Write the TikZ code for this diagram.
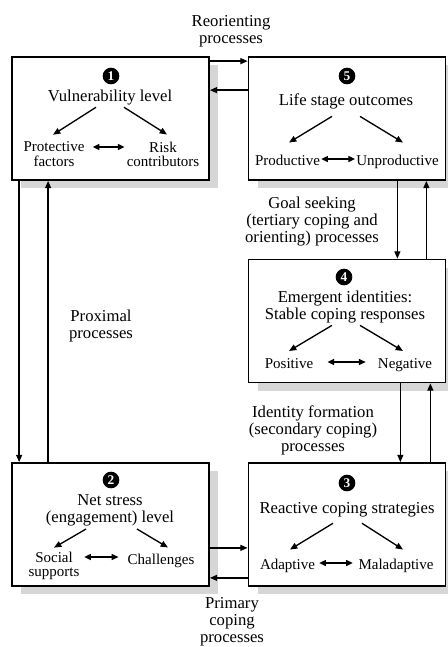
\documentclass[tikz,border=0pt]{standalone}
\usepackage{fontspec}
\setmainfont{Liberation Serif}
\usetikzlibrary{arrows.meta,shadows,calc}

\begin{document}
\begin{tikzpicture}[x=0.75pt, y=-0.75pt,
  bx/.style={draw, line width=1.3pt, fill=white, inner sep=0pt, minimum width=147.75pt,
             minimum height=92.25pt,
             drop shadow={shadow xshift=6.75pt, shadow yshift=-6pt, fill=black!16, opacity=1}},
  num/.style={circle, fill=black, text=white, inner sep=0pt, minimum size=12.5pt,
              font=\bfseries\fontsize{10}{10}\selectfont},
  ttl/.style={align=center, inner sep=0pt, font=\fontsize{12.5}{12.75}\selectfont},
  sub/.style={align=center, inner sep=0pt, font=\fontsize{11.25}{10.9}\selectfont},
  lbl/.style={ttl},
  arr/.style={-{Triangle[length=5.5pt, width=4.5pt]}, line width=1pt},
  dbl/.style={{Triangle[length=5pt, width=4.5pt]}-{Triangle[length=5pt, width=4.5pt]}, line width=1pt}]
\useasboundingbox (0,0) rectangle (448,647);
\foreach \n/\x/\y in {b1/110.5/118.5, b5/347/118.5, b4/347/321, b2/110.5/524.5, b3/347/524.5}
  \node[bx] (\n) at (\x,\y) {};
\foreach \n/\x/\y/\l in {n1/111/76/1, n5/347/76/5, n4/344/277/4, n2/111/480/2, n3/347/483/3}
  \node[num] (\n) at (\x,\y) {\l};

\node[ttl, anchor=base] (t1) at (110,101) {Vulnerability level};
\node[ttl, anchor=base] (t5) at (346,105.5) {Life stage outcomes};
\node[ttl] (t4) at (345,306.7) {Emergent identities:\\Stable coping responses};
\node[ttl] (t2) at (110,510) {Net stress\\(engagement) level};
\node[ttl, anchor=base] (t3) at (347,513) {Reactive coping strategies};

\node[sub] (p1) at (54,154.3) {Protective\\factors};
\node[sub] (r1) at (163,154.3) {Risk\\contributors};
\node[sub, anchor=base] (p5) at (287.5,165) {Productive};
\node[sub, anchor=base] (u5) at (397.5,165) {Unproductive};
\node[sub, anchor=base] (p4) at (289,368) {Positive};
\node[sub, anchor=base] (g4) at (405,368) {Negative};
\node[sub] (s2) at (54,566) {Social\\supports};
\node[sub, anchor=base] (c2) at (161,564) {Challenges};
\node[sub, anchor=base] (a3) at (287.5,569) {Adaptive};
\node[sub, anchor=base] (m3) at (396,569) {Maladaptive};

\node[lbl] (l15) at (231,31) {Reorienting\\processes};
\node[lbl] (l54) at (312,222) {Goal seeking\\(tertiary coping and\\orienting) processes};
\node[lbl] (l12) at (101,325.5) {Proximal\\processes};
\node[lbl] (l43) at (313,430) {Identity formation\\(secondary coping)\\processes};
\node[lbl] (l23) at (232,622) {Primary\\coping\\processes};

\draw[arr] ($(t1.south)+(-14,2.4)$) -- ($(p1.north)+(-1,-7)$);
\draw[arr] ($(t1.south)+(14,2.4)$) -- ($(r1.north)+(4,-7)$);
\draw[arr] ($(t5.south)+(-14,7)$) -- ($(p5.north)+(1.5,-11.8)$);
\draw[arr] ($(t5.south)+(14,7)$) -- ($(u5.north)+(5.5,-11.8)$);
\draw[arr] ($(t4.south)+(-13,2.3)$) -- ($(p4.north)+(0,-6.8)$);
\draw[arr] ($(t4.south)+(15,2.3)$) -- ($(g4.north)+(-2,-6.8)$);
\draw[arr] ($(t2.south)+(-24,3)$) -- ($(s2.north)+(0,-4)$);
\draw[arr] ($(t2.south)+(27,3)$) -- ($(c2.north)+(7,-5.8)$);
\draw[arr] ($(t3.south)+(-14,6.4)$) -- ($(a3.north)+(2.5,-8.8)$);
\draw[arr] ($(t3.south)+(15,6.4)$) -- ($(m3.north)+(7,-8.8)$);

\draw[dbl] ($(p1.east)+(8,-7.3)$) -- ($(r1.west)+(-2,-7.3)$);
\draw[dbl] ($(p5.base east)+(1,-6)$) -- ($(u5.base west)+(-1,-6)$);
\draw[dbl] ($(p4.base east)+(14,-6)$) -- ($(g4.base west)+(-12,-6)$);
\draw[dbl] ($(s2.east)+(4.5,-9)$) -- ($(c2.base west)+(-9,-7)$);
\draw[dbl] ($(a3.base east)+(4,-6)$) -- ($(m3.base west)+(-5.5,-6)$);

\draw[arr] ($(b1.north east)+(0,5)$) -- ($(b5.north west)+(0,5)$);
\draw[arr] ($(b5.north west)+(0,34)$) -- ($(b1.north east)+(0,34)$);
\draw[arr] ($(b5.south east)+(-49,0)$) -- ($(b4.north east)+(-49,0)$);
\draw[arr] ($(b4.north east)+(-20,0)$) -- ($(b5.south east)+(-20,0)$);
\draw[arr] ($(b4.south east)+(-46,0)$) -- ($(b3.north east)+(-46,0)$);
\draw[arr] ($(b3.north east)+(-16,0)$) -- ($(b4.south east)+(-16,0)$);
\draw[arr] ($(b2.south east)+(0,-39)$) -- ($(b3.south west)+(0,-39)$);
\draw[arr] ($(b3.south west)+(0,-9)$) -- ($(b2.south east)+(0,-9)$);
\draw[arr] ($(b1.south west)+(8,0)$) -- ($(b2.north west)+(8,0)$);
\draw[arr] ($(b2.north west)+(37,0)$) -- ($(b1.south west)+(37,0)$);
\end{tikzpicture}
\end{document}
